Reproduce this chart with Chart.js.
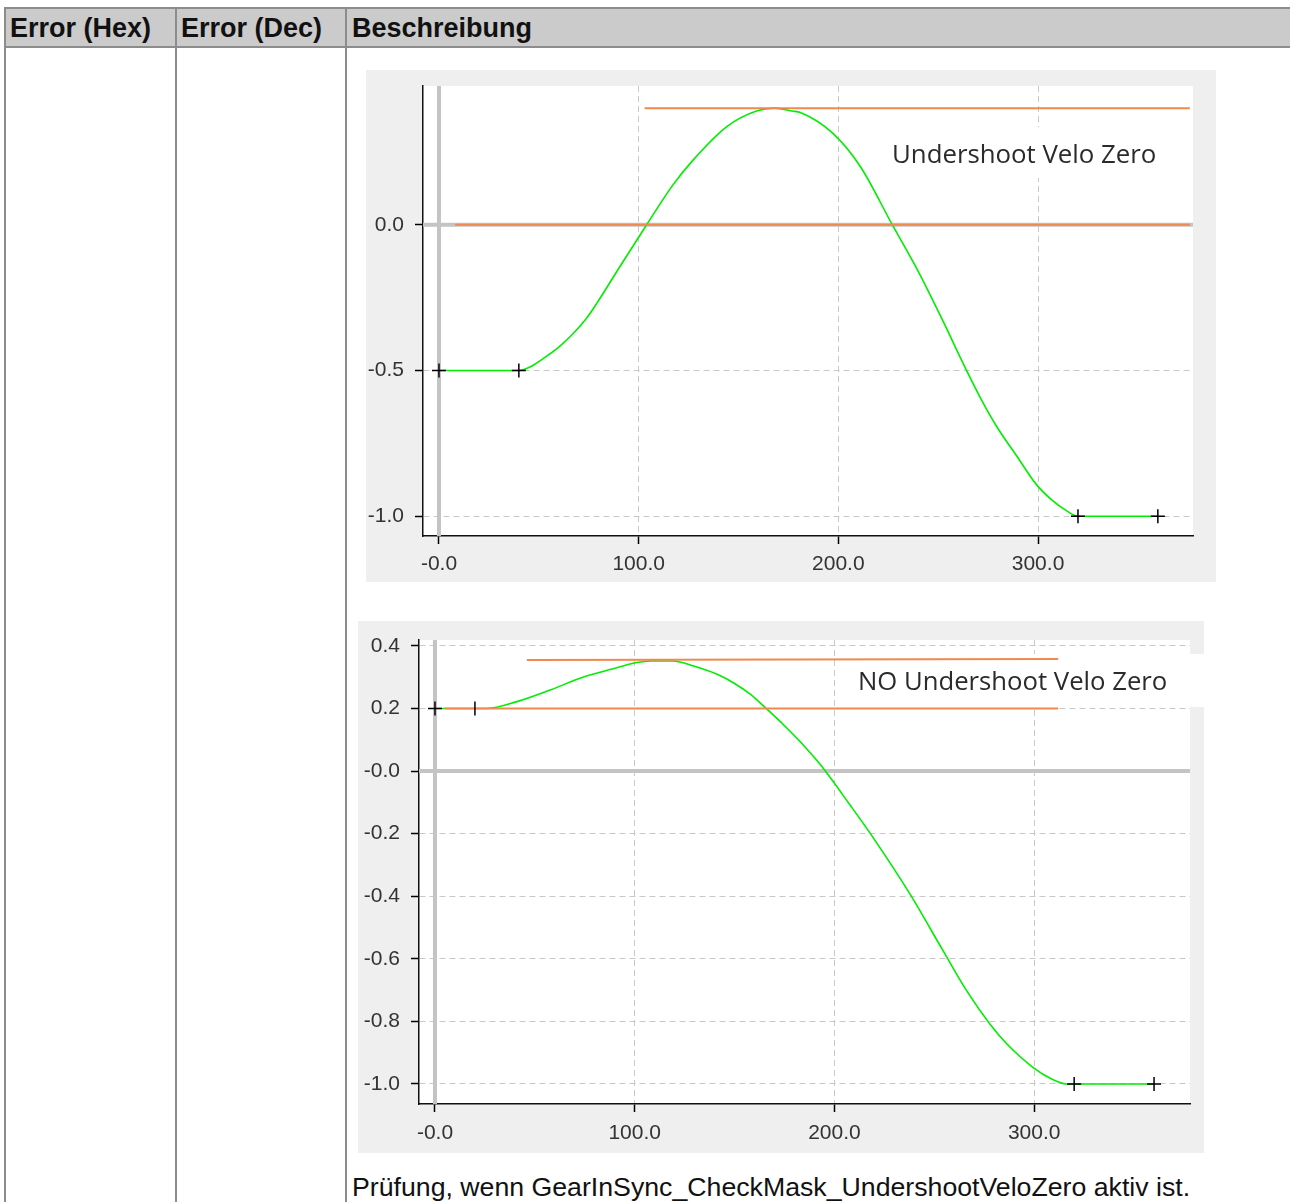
<!DOCTYPE html>
<html>
<head>
<meta charset="utf-8">
<script src="https://cdn.jsdelivr.net/npm/chart.js@4.4.0/dist/chart.umd.min.js"></script>
<style>
  body { margin: 0; background: #fff; width: 1290px; height: 1202px; overflow: hidden; position: relative;
         font-family: "Liberation Sans", Arial, sans-serif; }
  .hdr { position: absolute; left: 5px; top: 8px; width: 1300px; height: 40px; background: #cbcbcb; }
  .hl { position: absolute; left: 4px; width: 1300px; height: 2px; background: #8c8c8c; }
  .vl { position: absolute; top: 7px; width: 2px; height: 1200px; background: #8c8c8c; }
  .th { position: absolute; top: 8px; line-height: 40px; font-size: 27px; font-weight: bold; color: #111; }
  .caption { position: absolute; left: 352px; top: 1171px; font-size: 26.7px; line-height: 32px; color: #111; }
  canvas { position: absolute; }
</style>
</head>
<body>
<div class="hdr"></div>
<div class="hl" style="top:7px"></div>
<div class="hl" style="top:46px"></div>
<div class="vl" style="left:4px"></div>
<div class="vl" style="left:175px"></div>
<div class="vl" style="left:345px"></div>
<div class="th" style="left:10px">Error (Hex)</div>
<div class="th" style="left:181px">Error (Dec)</div>
<div class="th" style="left:352px">Beschreibung</div>

<canvas id="chartUnder" width="850" height="512" style="left:366px;top:70px;width:850px;height:512px"></canvas>
<canvas id="chartNoUnder" width="846" height="532" style="left:358px;top:621px;width:846px;height:532px"></canvas>

<div class="caption">Prüfung, wenn GearInSync_CheckMask_UndershootVeloZero aktiv ist.</div>

<script>
// --- Diagramm 1: Undershoot Velo Zero ---
const under_x = [0, 40, 45, 52, 60, 67, 74, 79, 90, 104, 117, 127, 144, 159, 168, 177, 181, 197, 211, 227, 240, 252, 264, 272, 280, 289, 299, 307, 314, 320, 360];
const under_y = [-0.5, -0.5, -0.49, -0.46, -0.42, -0.375, -0.32, -0.27, -0.15, 0.0, 0.135, 0.22, 0.336, 0.39, 0.40, 0.39, 0.385, 0.315, 0.2, 0.0, -0.16, -0.325, -0.497, -0.605, -0.7, -0.79, -0.89, -0.945, -0.98, -1.0, -1.0];
const under_markX = [0, 40, 320, 360];
const under_markY = [-0.5, -0.5, -1.0, -1.0];
const under_limitX = [[8, 376], [103, 376]];
const under_limitY = [[0.0, 0.0], [0.40, 0.40]];
const under_yTicks = [-1.0, -0.5, 0.0];
const under_yLabels = ['-1.0', '-0.5', '0.0'];

// --- Diagramm 2: NO Undershoot Velo Zero ---
const noUnder_x = [0, 20, 26, 41, 58, 74, 91, 101, 108, 119, 130, 141, 150, 158, 165, 175, 183, 193, 208, 218, 238, 254, 266, 278, 286, 299, 309, 316, 320, 360];
const noUnder_y = [0.2, 0.2, 0.2, 0.222, 0.26, 0.30, 0.33, 0.347, 0.352, 0.352, 0.335, 0.31, 0.28, 0.245, 0.205, 0.145, 0.093, 0.02, -0.11, -0.2, -0.395, -0.57, -0.7, -0.81, -0.87, -0.945, -0.985, -1.0, -1.0, -1.0];
const noUnder_markX = [0, 20, 320, 360];
const noUnder_markY = [0.2, 0.2, -1.0, -1.0];
const noUnder_limitX = [[46, 312], [5, 312]];
const noUnder_limitY = [[0.355, 0.358], [0.2, 0.2]];
const noUnder_yTicks = [-1.0, -0.8, -0.6, -0.4, -0.2, 0.0, 0.2, 0.4];
const noUnder_yLabels = ['-1.0', '-0.8', '-0.6', '-0.4', '-0.2', '-0.0', '0.2', '0.4'];

const xTicks = [0, 100, 200, 300];
const xLabels = ['-0.0', '100.0', '200.0', '300.0'];

const toPoints = (xs, ys) => xs.map((x, i) => ({ x: x, y: ys[i] }));

// Hintergrund, Nulllinien und Beschriftungsfeld
const decoPlugin = {
    id: 'deco',
    beforeDraw(chart) {
        const { ctx, chartArea: a } = chart;
        ctx.save();
        ctx.fillStyle = '#efefef';
        ctx.fillRect(0, 0, chart.width, chart.height);
        ctx.fillStyle = '#fff';
        ctx.fillRect(a.left, a.top, a.right - a.left, a.bottom - a.top);
        ctx.restore();
    },
    beforeDatasetsDraw(chart) {
        const { ctx, chartArea: a, scales } = chart;
        const o = chart.options.plugins.deco;
        const x0 = scales.x.getPixelForValue(0);
        const y0 = scales.y.getPixelForValue(0);
        ctx.save();
        ctx.strokeStyle = '#c4c4c4';
        ctx.lineWidth = 4;
        ctx.beginPath();
        ctx.moveTo(x0, a.top);
        ctx.lineTo(x0, a.bottom);
        ctx.moveTo(a.left, y0);
        ctx.lineTo(a.right, y0);
        ctx.stroke();
        // weisses Feld hinter der Beschriftung
        ctx.fillStyle = '#fff';
        ctx.fillRect(o.box[0], o.box[1], o.box[2], o.box[3]);
        ctx.fillStyle = '#2b2b2b';
        ctx.font = o.fontSize + 'px "Open Sans"';
        ctx.textBaseline = 'middle';
        ctx.fillText(o.text, o.textAt[0], o.textAt[1]);
        ctx.restore();
    }
};

function createCurveChart(id, cfg) {
    const ctx = document.getElementById(id);

    const datasets = [
        {
            data: toPoints(cfg.markX, cfg.markY),
            pointStyle: cfg.markStyle,
            pointRotation: cfg.markRotation,
            pointRadius: 7,
            borderColor: '#000',
            pointBorderWidth: 1.5,
            showLine: false
        }
    ];
    cfg.limitX.forEach((lx, i) => {
        datasets.push({
            data: toPoints(lx, cfg.limitY[i]),
            borderColor: '#f0894e',
            borderWidth: 2,
            pointRadius: 0,
            showLine: true
        });
    });
    datasets.push({
        data: toPoints(cfg.x, cfg.y),
        borderColor: '#00ee00',
        borderWidth: 1.6,
        pointRadius: 0,
        showLine: true,
        cubicInterpolationMode: 'monotone'
    });

    const tickFont = { family: '"Liberation Sans", Arial, sans-serif', size: 21 };

    new Chart(ctx, {
        type: 'scatter',
        data: { datasets: datasets },
        options: {
            responsive: false,
            animation: false,
            events: [],
            layout: { padding: cfg.padding },
            plugins: {
                legend: { display: false },
                tooltip: { enabled: false },
                deco: { text: cfg.text, textAt: cfg.textAt, box: cfg.box, fontSize: cfg.fontSize }
            },
            scales: {
                x: {
                    type: 'linear',
                    min: cfg.xMin,
                    max: cfg.xMax,
                    afterBuildTicks: s => { s.ticks = xTicks.map(v => ({ value: v })); },
                    afterFit: s => { s.height = cfg.xHeight; s.paddingLeft = 0; s.paddingRight = 0; },
                    ticks: { color: '#333', font: tickFont, padding: cfg.xPad, autoSkip: false, maxRotation: 0,
                             callback: (v, i) => xLabels[i] },
                    grid: { color: '#c8c8c8', lineWidth: 1, tickColor: '#000', tickLength: 8, tickWidth: 1.5 },
                    border: { display: true, color: '#111', width: 1.5, dash: [6, 4] }
                },
                y: {
                    type: 'linear',
                    min: cfg.yMin,
                    max: cfg.yMax,
                    afterBuildTicks: s => { s.ticks = cfg.yTicks.map(v => ({ value: v })); },
                    afterFit: s => { s.width = cfg.yWidth; s.paddingTop = 0; s.paddingBottom = 0; },
                    ticks: { color: '#333', font: tickFont, padding: 11, autoSkip: false,
                             callback: (v, i) => cfg.yLabels[i] },
                    grid: { color: '#c8c8c8', lineWidth: 1, tickColor: '#000', tickLength: 8, tickWidth: 1.5 },
                    border: { display: true, color: '#111', width: 1.5, dash: [6, 4] }
                }
            }
        },
        plugins: [decoPlugin]
    });
}

createCurveChart('chartUnder', {
    x: under_x, y: under_y,
    markX: under_markX, markY: under_markY,
    markStyle: 'cross', markRotation: 0,
    limitX: under_limitX, limitY: under_limitY,
    yTicks: under_yTicks, yLabels: under_yLabels,
    xMin: -8, xMax: 377.6, yMin: -1.068, yMax: 0.476,
    padding: { left: 0, top: 16, right: 23, bottom: 0 },
    yWidth: 57, xHeight: 46, xPad: 8,
    text: 'Undershoot Velo Zero', textAt: [526, 86], box: [514, 57, 313, 51], fontSize: 25.8
});

createCurveChart('chartNoUnder', {
    x: noUnder_x, y: noUnder_y,
    markX: noUnder_markX, markY: noUnder_markY,
    markStyle: ['cross', 'line', 'cross', 'cross'], markRotation: [0, 90, 0, 0],
    limitX: noUnder_limitX, limitY: noUnder_limitY,
    yTicks: noUnder_yTicks, yLabels: noUnder_yLabels,
    xMin: -8, xMax: 378, yMin: -1.064, yMax: 0.419,
    padding: { left: 0, top: 19, right: 14, bottom: 0 },
    yWidth: 61, xHeight: 49, xPad: 9,
    text: 'NO Undershoot Velo Zero', textAt: [500, 62], box: [490, 33, 356, 53], fontSize: 25.7
});
</script>
</body>
</html>
